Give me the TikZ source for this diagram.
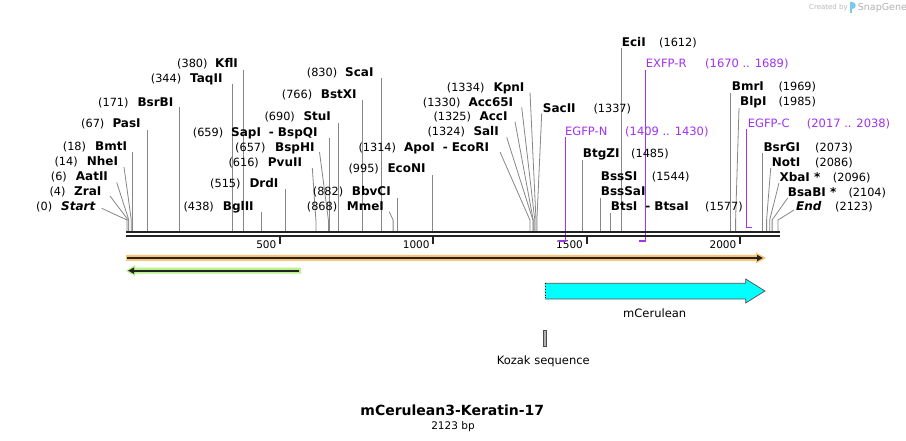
\documentclass[tikz,border=0pt]{standalone}
\usepackage{fontspec}
\setmainfont{DejaVu Sans}[BoldFont={DejaVu Sans Bold},ItalicFont={DejaVu Sans Oblique},BoldItalicFont={DejaVu Sans Bold Oblique}]
\usetikzlibrary{arrows.meta}
\definecolor{sitegray}{RGB}{135,135,135}
\definecolor{primer}{RGB}{160,50,240}
\definecolor{rulerc}{RGB}{34,34,34}
\definecolor{orangec}{RGB}{249,197,112}
\definecolor{greenc}{RGB}{184,242,136}
\definecolor{cyanc}{RGB}{0,255,255}
\definecolor{featgray}{RGB}{80,80,80}
\definecolor{logoblue}{RGB}{120,200,240}
\newcommand\sgL[6]{\node[num] (#1-n) at (#2,#4+4) {(#5)};\node[enz] (#1) at (#3,#4+4) {#6};}
\newcommand\sgR[6]{\node[enz] (#1) at (#2,#4+4) {#6};\node[num] (#1-n) at (#3,#4+4) {(#5)};}
\newcommand\sgV[3]{\coordinate (#1-t) at (#2,#3);\coordinate (#1-r) at (#2,231);\draw[site] (#1-t) -- (#1-r);}
\newcommand\sgB[4]{\coordinate (#1-t) at (#2,#3);\coordinate (#1-b) at (#4,220);\coordinate (#1-r) at (#4,231);\draw[site] (#1-t) -- (#1-b) -- (#1-r);}
\newcommand\sgDash{\hspace{8pt}-\hspace{4pt}}
\begin{document}
\begin{tikzpicture}[x=1pt,y=-1pt,
  num/.style={font=\fontsize{11.3}{13}\selectfont, inner sep=0pt, anchor=base west},
  enz/.style={font=\fontsize{12}{14}\selectfont\bfseries, inner sep=0pt, anchor=base west},
  primtxt/.style={font=\fontsize{11.5}{13}\selectfont, inner sep=0pt, anchor=base west, text=primer},
  site/.style={draw=sitegray, line width=0.8pt},
  prim/.style={draw=primer, line width=1.4pt},
  tick/.style={draw=rulerc, line width=2pt},
  ticklab/.style={font=\fontsize{10.5}{12}\selectfont, inner sep=0pt, anchor=base east},
  featlab/.style={font=\fontsize{11.5}{13}\selectfont, inner sep=0pt, anchor=base}]
\useasboundingbox (0,0) rectangle (906,441);
\fill[white] (0,0) rectangle (906,441);

% ---- site lines
\sgB{Start}{101.7}{208.3}{127}
\sgB{ZraI}{110}{196}{128.2}
\sgB{AatII}{116.7}{182.5}{128.8}
\sgB{NheI}{124}{167}{131.3}
\sgV{BmtI}{132.5}{152.5}
\sgV{PasI}{147.5}{130}
\sgV{BsrBI}{179.5}{107}
\sgV{TaqII}{232.5}{84}
\sgV{KflI}{243.5}{70}
\sgV{BglII}{261.3}{211.7}
\sgV{DrdI}{284.9}{189}
\sgB{PvuII}{312.3}{168}{315.9}
\sgB{BspHI}{319.5}{152}{328.4}
\sgV{SapI}{329}{138}
\sgV{StuI}{338.6}{123}
\sgV{BstXI}{361.9}{100}
\sgV{ScaI}{381.5}{78}
\sgB{MmeI}{389.3}{211.7}{393.1}
\sgV{BbvCI}{397.4}{198}
\sgV{EcoNI}{432.1}{175}
\sgB{ApoI}{500}{152}{529.9}
\sgB{SalI}{506.7}{137.3}{532.9}
\sgB{AccI}{515}{121.7}{533.2}
\sgB{Acc65I}{521.7}{107.3}{534.8}
\sgB{KpnI}{530}{92.3}{536}
\sgB{SacII}{541.7}{113.3}{536.9}
\sgV{BtgZI}{582.3}{160}
\sgV{BssSI}{600.4}{198}
\sgV{BtsI}{610.5}{213}
\sgV{EciI}{621.2}{48}
\sgV{BmrI}{730.7}{93}
\sgB{BlpI}{739}{108}{735.6}
\sgV{BsrGI}{762.6}{153}
\sgB{NotI}{770.7}{168}{766.6}
\sgB{XbaI}{779}{183}{769.7}
\sgB{BsaBI}{787.7}{198}{772.1}
\sgB{End}{794}{210}{778}

% ---- primer lines
\coordinate (pN-t) at (565.5,137.5); \coordinate (pN-c) at (565.5,241); \coordinate (pN-e) at (559,241);
\coordinate (pR-t) at (645.3,70); \coordinate (pR-c) at (645.3,241); \coordinate (pR-e) at (639,241);
\coordinate (pC-t) at (746.5,129.5); \coordinate (pC-c) at (746.5,227.5); \coordinate (pC-e) at (751.8,227.5);
\draw[prim] (pN-t) -- (pN-c) -- (pN-e);
\draw[prim] (pR-t) -- (pR-c) -- (pR-e);
\draw[prim] (pC-t) -- (pC-c) -- (pC-e);

% ---- ruler
\coordinate (ruA) at (126,232.2); \coordinate (ruB) at (780,232.2);
\coordinate (rlA) at (126,236.2); \coordinate (rlB) at (780,236.2);
\draw[rulerc, line width=2.3pt] (ruA) -- (ruB);
\draw[rulerc, line width=2.3pt] (rlA) -- (rlB);
\foreach \tx/\tl in {280/500, 433.3/1000, 586.6/1500, 740/2000}{
  \draw[tick] (\tx,237) -- (\tx,244);
  \node[ticklab] (t\tl) at (\tx-3.5,248.5) {\tl};
}
\draw[primer, line width=1.6pt] (559,241) -- (565.5,241);
\draw[primer, line width=1.6pt] (639,241) -- (645.3,241);

% ---- labels, left side
\sgL{Start}{36}{61}{207}{0}{\itshape Start}
\sgL{ZraI}{49.3}{74}{192}{4}{ZraI}
\sgL{AatII}{50.7}{75.7}{177}{6}{AatII}
\sgL{NheI}{54.3}{86.7}{162}{14}{NheI}
\sgL{BmtI}{62.7}{95}{147}{18}{BmtI}
\sgL{PasI}{81}{112.3}{124}{67}{PasI}
\sgL{BsrBI}{98}{137.3}{102.5}{171}{BsrBI}
\sgL{TaqII}{150.7}{190}{79}{344}{TaqII}
\sgL{KflI}{177}{215}{64}{380}{KflI}
\sgL{BglII}{183.3}{222.7}{207}{438}{BglII}
\sgL{DrdI}{210}{249.3}{183.3}{515}{DrdI}
\sgL{PvuII}{228.3}{267.7}{162.3}{616}{PvuII}
\sgL{BspHI}{235}{275}{147.3}{657}{BspHI}
\sgL{SapI}{192.7}{231}{132.3}{659}{SapI\sgDash BspQI}
\sgL{StuI}{264.3}{303.3}{116.7}{690}{StuI}
\sgL{BstXI}{281.7}{320.7}{94.3}{766}{BstXI}
\sgL{ScaI}{306.7}{345}{72.3}{830}{ScaI}
\sgL{MmeI}{306.7}{346.7}{206.7}{868}{MmeI}
\sgL{BbvCI}{312.7}{351.7}{191.7}{882}{BbvCI}
\sgL{EcoNI}{348.3}{387.3}{169}{995}{EcoNI}
\sgL{ApoI}{358.3}{404}{147.3}{1314}{ApoI\sgDash EcoRI}
\sgL{SalI}{427.3}{473.3}{131.7}{1324}{SalI}
\sgL{AccI}{433.3}{479.3}{116.7}{1325}{AccI}
\sgL{Acc65I}{422.7}{468.3}{102.3}{1330}{Acc65I}
\sgL{KpnI}{446.7}{493.3}{87.3}{1334}{KpnI}

% ---- labels, right side
\sgR{SacII}{542.7}{593.3}{109}{1337}{SacII}
\sgR{BtgZI}{582.7}{631}{154}{1485}{BtgZI}
\sgR{BssSI}{600.7}{651.7}{176.7}{1544}{BssSI}
\node[enz] (BssSaI) at (600.7,195.7) {BssSaI};
\sgR{BtsI}{610.7}{705}{206.7}{1577}{BtsI\sgDash BtsaI}
\sgR{EciI}{621.7}{659}{42.3}{1612}{EciI}
\sgR{BmrI}{731.7}{778.3}{86.7}{1969}{BmrI}
\sgR{BlpI}{740}{778.3}{101.7}{1985}{BlpI}
\sgR{BsrGI}{763.3}{815}{147.3}{2073}{BsrGI}
\sgR{NotI}{771.7}{815}{162.3}{2086}{NotI}
\sgR{XbaI}{779.3}{832.7}{177.3}{2096}{XbaI *}
\sgR{BsaBI}{787.7}{848.3}{192.3}{2104}{BsaBI *}
\sgR{End}{796}{835}{206.7}{2123}{\itshape End}

% ---- primer labels
\node[primtxt] (EGFPN) at (565,135.7) {EGFP-N};
\node[primtxt] (EGFPN-n) at (625,135.7) {(1409 .. 1430)};
\node[primtxt] (EXFPR) at (645.7,67.3) {EXFP-R};
\node[primtxt] (EXFPR-n) at (705,67.3) {(1670 .. 1689)};
\node[primtxt] (EGFPC) at (747.7,127.3) {EGFP-C};
\node[primtxt] (EGFPC-n) at (806.7,127.3) {(2017 .. 2038)};

% ---- feature arrows
\fill[orangec] (126,255) -- (756,255) -- (756,252.5) -- (766,258) -- (756,263.5) -- (756,261) -- (126,261) -- cycle;
\draw[rulerc, line width=1.6pt, -{Triangle[length=6pt,width=6pt]}] (127,258) -- (763,258);
\fill[greenc] (301,267.7) -- (135,267.7) -- (135,265.2) -- (126,270.7) -- (135,276.2) -- (135,273.7) -- (301,273.7) -- cycle;
\draw[rulerc, line width=1.6pt, -{Triangle[length=6pt,width=6pt]}] (299,270.7) -- (128,270.7);

\draw[featgray, fill=cyanc, line width=0.7pt] (545,283.3) -- (745.7,283.3) -- (745.7,279) -- (765,291) -- (745.7,303) -- (745.7,299) -- (545,299);
\draw[black, dotted, line width=0.8pt] (545,283.3) -- (545,299);
\node[featlab] (mCer) at (654.7,317) {mCerulean};

\draw[black!70, fill=gray!60, line width=0.6pt] (543.3,330) rectangle (546.7,346);
\node[featlab] (kozak) at (543.3,364) {Kozak sequence};

% ---- title
\node[font=\fontsize{14}{16}\selectfont\bfseries, inner sep=0pt, anchor=base] (title) at (452.3,415) {mCerulean3-Keratin-17};
\node[font=\fontsize{10.5}{12}\selectfont, inner sep=0pt, anchor=base] (bp) at (453,429) {2123 bp};

% ---- credit
\node[font=\fontsize{7}{8}\selectfont, text=gray!55, inner sep=0pt, anchor=base west] (cr) at (809,10) {Created by};
\fill[logoblue] (849.5,2.5) rectangle (852,13.5);
\fill[logoblue] (852,2.5) .. controls (856.5,2.5) and (856.5,9.5) .. (852,9.5) -- cycle;
\node[font=\fontsize{9.5}{11}\selectfont, text=gray!60, inner sep=0pt, anchor=base west] (sg) at (857.7,11) {SnapGene};
\end{tikzpicture}
\end{document}
